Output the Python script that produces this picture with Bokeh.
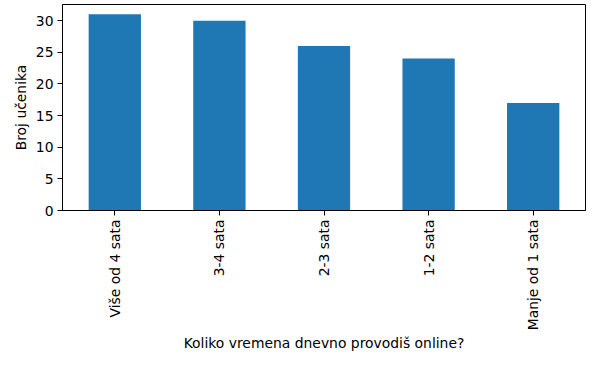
import math
from bokeh.plotting import figure
from bokeh.models import Range1d, FixedTicker, ColumnDataSource
from bokeh.embed import file_html
from bokeh.resources import INLINE

categories = ["Više od 4 sata", "3-4 sata", "2-3 sata", "1-2 sata", "Manje od 1 sata"]
values = [31, 30, 26, 24, 17]
y_ticks = [0, 5, 10, 15, 20, 25, 30]
x_label = "Koliko vremena dnevno provodiš online?"
y_label = "Broj učenika"

xs = list(range(len(categories)))
src = ColumnDataSource(dict(x=xs, top=values))

p = figure(width=600, height=366, output_backend="svg", toolbar_location=None,
           x_range=Range1d(-0.5, len(categories) - 0.5),
           y_range=Range1d(0, max(values) * 1.05))
p.min_border_left = 62
p.min_border_right = 15
p.min_border_top = 4
p.min_border_bottom = 156

p.vbar(x="x", top="top", width=0.5, source=src, color="#1f77b4", line_color=None)

font = "DejaVu Sans"
fs = "13.9px"
p.xgrid.visible = False
p.ygrid.visible = False
p.outline_line_color = "black"
p.outline_line_width = 1
p.outline_line_alpha = 1

for ax in (p.xaxis[0], p.yaxis[0]):
    ax.major_label_text_font = font
    ax.major_label_text_font_size = fs
    ax.major_label_text_color = "black"
    ax.axis_label_text_font = font
    ax.axis_label_text_font_size = fs
    ax.axis_label_text_font_style = "normal"
    ax.axis_label_text_color = "black"
    ax.minor_tick_line_color = None
    ax.major_tick_out = 5
    ax.major_tick_in = 0
    ax.major_tick_line_color = "black"
    ax.axis_line_color = "black"
    ax.major_label_standoff = 4

p.xaxis.ticker = FixedTicker(ticks=xs)
p.xaxis.major_label_overrides = {i: c for i, c in enumerate(categories)}
p.xaxis.major_label_orientation = math.pi / 2
p.xaxis.axis_label = x_label
p.xaxis.axis_label_standoff = 2

p.yaxis.ticker = FixedTicker(ticks=y_ticks)
p.yaxis.axis_label = y_label
p.yaxis.axis_label_standoff = 4

open("out.html", "w").write(file_html(p, INLINE))
